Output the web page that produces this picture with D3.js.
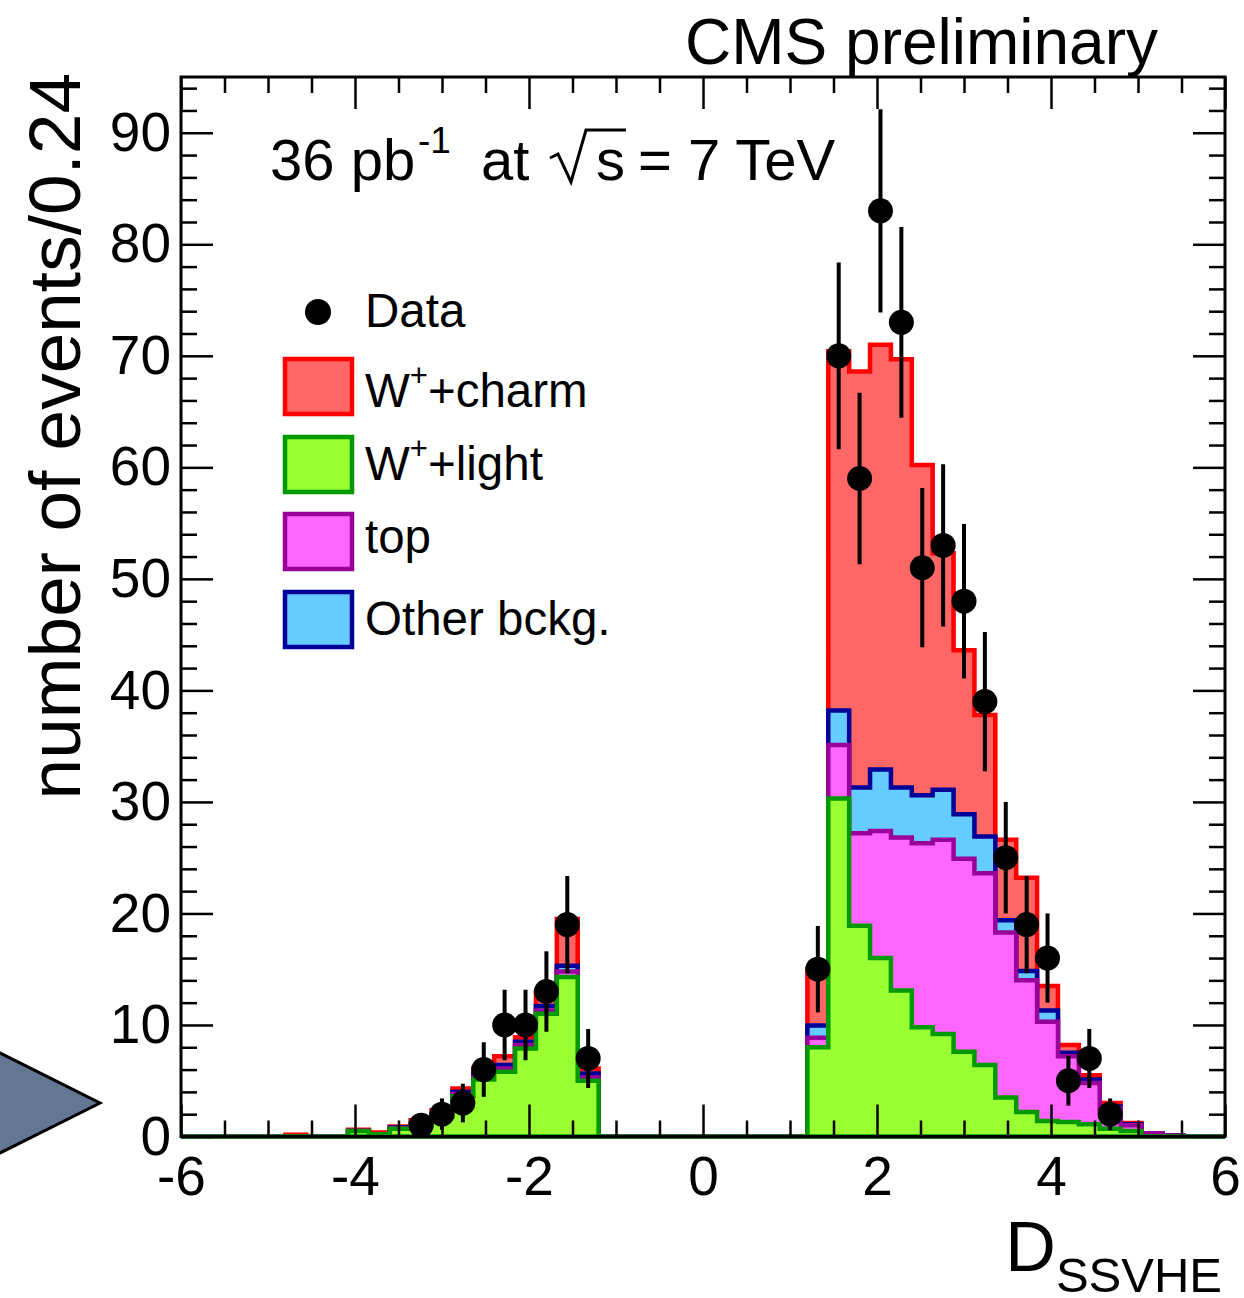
<!DOCTYPE html>
<html><head><meta charset="utf-8">
<script src="https://cdn.jsdelivr.net/npm/d3@7"></script>
<style>
body{margin:0;background:#fff;}
text{font-family:"Liberation Sans",Arial,Helvetica,sans-serif;fill:#000;}
</style>
</head><body>
<svg id="c" width="1244" height="1298"></svg>
<script>
// ---- axis definition ----
const xDomain = [-6, 6];
const yDomain = [0, 95];
const binWidth = 0.24;
const xMajorTicks = [-6, -4, -2, 0, 2, 4, 6];
const yMajorTicks = [0, 10, 20, 30, 40, 50, 60, 70, 80, 90];

// ---- stacked MC components (events per bin, 50 bins of 0.24 from -6 to 6) ----
const wLight = [0,0,0,0,0,0,0,0,0.5,0.2, 0.7,1.0,1.8,3.6,5.1,5.8,7.9,11.0,14.3,5.0,
  0,0,0,0,0,0,0,0,0,0, 8.0,30.3,18.9,16.0,13.1,9.8,9.2,7.6,6.4,3.5,
  2.2,1.4,1.3,1.1,0.7,0.5,0,0,0,0];
const topBkg = [0,0,0,0,0,0,0,0,0,0, 0.05,0.1,0.1,0.2,0.25,0.3,0.3,0.3,0.5,0.3,
  0,0,0,0,0,0,0,0,0,0, 0.85,4.8,8.3,11.4,13.7,16.5,17.4,17.3,17.2,14.8,
  11.8,8.9,5.9,3.7,1.8,0.5,0.3,0.1,0,0];
const otherBkg = [0,0,0,0,0,0,0,0,0,0, 0.05,0.05,0.05,0.2,0.25,0.3,0.3,0.4,0.5,0.35,
  0,0,0,0,0,0,0,0,0,0, 1.1,3.1,4.1,5.5,4.5,4.3,4.5,4.0,3.3,1.1,
  0.85,1.0,0.3,0.3,0.2,0.1,0,0,0,0];
const wCharm = [0,0,0,0,0,0.15,0,0,0.1,0.15, 0.1,0.3,0.4,0.3,0.5,0.8,0.4,1.2,4.2,0.45,
  0,0,0,0,0,0,0,0,0,0, 5.05,32.2,37.3,38.1,38.4,29.6,21.2,14.7,10.9,7.2,
  8.35,2.2,0.7,0.4,0.3,0.1,0,0,0,0];
// ---- data ----
const dataCounts = [0,0,0,0,0,0,0,0,0,0, 0,1,2,3,6,10,10,13,19,7,
  0,0,0,0,0,0,0,0,0,0, 15,70,59,83,73,51,53,48,39,25,
  19,16,5,7,2,0,0,0,0,0];

const legendLabels = ["Data", "W+charm", "W+light", "top", "Other bckg."];

// ---- layout ----
const svg = d3.select("#c");
const L = 181, R = 1225, T = 77, B = 1136.5;
const x = d3.scaleLinear().domain(xDomain).range([L, R]);
const y = d3.scaleLinear().domain(yDomain).range([B, T]);

const comps = [
  {key:"light", fill:"#99ff33", stroke:"#009900"},
  {key:"top", fill:"#ff66ff", stroke:"#990099"},
  {key:"other", fill:"#66ccff", stroke:"#000099"},
  {key:"charm", fill:"#ff6666", stroke:"#ff0000"}
];
const table = wLight.map((v,i)=>({i, light:v, top:topBkg[i], other:otherBkg[i], charm:wCharm[i]}));
const stack = d3.stack().keys(comps.map(c=>c.key))(table);

// triangle (slide decoration)
svg.append("polygon").attr("points","-10,1048 100,1103 -10,1158")
  .attr("fill","#637794").attr("stroke","#000").attr("stroke-width",3);

const line = d3.line().x(d=>x(d[0])).y(d=>y(d[1]));
function stepPoints(vals){
  const pts = [[xDomain[0],0]];
  vals.forEach((v,i)=>{
    const x0 = xDomain[0] + i*binWidth, x1 = xDomain[0] + (i+1)*binWidth;
    pts.push([x0,v],[x1,v]);
  });
  pts.push([xDomain[1],0]);
  return pts;
}
// draw from the total downwards (ROOT THStack style)
const gH = svg.append("g");
for (let k = comps.length-1; k >= 0; k--) {
  const cum = stack[k].map(d=>d[1]);
  gH.append("path").attr("d", line(stepPoints(cum)) + "Z")
    .attr("fill", comps[k].fill).attr("stroke", comps[k].stroke)
    .attr("stroke-width", 4.5).attr("stroke-linejoin","miter");
}

// ---- axes ----
const xMinor = d3.range(-6, 6.001, 0.5).filter(v=>Math.abs(v/2 - Math.round(v/2))>1e-6);
const yMinor = d3.range(0, 95.001, 2).filter(v=>v%10!==0);
const tickFont = 55;

const gxB = svg.append("g").attr("transform",`translate(0,${B})`)
  .call(d3.axisBottom(x).tickValues(xMajorTicks).tickSize(-32).tickPadding(19).tickFormat(d3.format("d")));
svg.append("g").attr("transform",`translate(0,${B})`)
  .call(d3.axisBottom(x).tickValues(xMinor).tickSize(-16).tickFormat(""));
svg.append("g").attr("transform",`translate(0,${T})`)
  .call(d3.axisTop(x).tickValues(xMajorTicks).tickSize(-32).tickFormat(""));
svg.append("g").attr("transform",`translate(0,${T})`)
  .call(d3.axisTop(x).tickValues(xMinor).tickSize(-16).tickFormat(""));
const gyL = svg.append("g").attr("transform",`translate(${L},0)`)
  .call(d3.axisLeft(y).tickValues(yMajorTicks).tickSize(-32).tickPadding(10).tickFormat(d3.format("d")));
svg.append("g").attr("transform",`translate(${L},0)`)
  .call(d3.axisLeft(y).tickValues(yMinor).tickSize(-16).tickFormat(""));
svg.append("g").attr("transform",`translate(${R},0)`)
  .call(d3.axisRight(y).tickValues(yMajorTicks).tickSize(-32).tickFormat(""));
svg.append("g").attr("transform",`translate(${R},0)`)
  .call(d3.axisRight(y).tickValues(yMinor).tickSize(-16).tickFormat(""));
svg.selectAll(".domain").remove();
svg.selectAll(".tick line").attr("stroke","#000").attr("stroke-width",2.5);
svg.selectAll(".tick text").style("font-family",'"Liberation Sans",Arial,sans-serif')
  .attr("font-size", tickFont).attr("fill","#000");
gxB.selectAll(".tick text").text(d=>d<0 ? "-"+Math.abs(d) : d);

// frame
svg.append("rect").attr("x",L).attr("y",T).attr("width",R-L).attr("height",B-T)
  .attr("fill","none").attr("stroke","#000").attr("stroke-width",3);

// ---- data points ----
const pts = dataCounts.map((v,i)=>({v, xc: xDomain[0] + (i+0.5)*binWidth})).filter(d=>d.v>0);
const gD = svg.append("g");
gD.selectAll("line").data(pts).join("line")
  .attr("x1",d=>x(d.xc)).attr("x2",d=>x(d.xc))
  .attr("y1",d=>y(Math.max(0,d.v-Math.sqrt(d.v)))).attr("y2",d=>y(d.v+Math.sqrt(d.v)))
  .attr("stroke","#000").attr("stroke-width",4);
gD.selectAll("circle").data(pts).join("circle")
  .attr("cx",d=>x(d.xc)).attr("cy",d=>y(d.v)).attr("r",12.5).attr("fill","#000");

// ---- legend ----
const legFont = 47.5;
svg.append("circle").attr("cx",318).attr("cy",312).attr("r",13).attr("fill","#000");
svg.append("text").attr("x",365).attr("y",327).attr("font-size",legFont).text(legendLabels[0]);
const legItems = [
  {c:comps[3], y:359, base:407, main:"W", sup:"+", rest:"+charm"},
  {c:comps[0], y:437, base:480, main:"W", sup:"+", rest:"+light"},
  {c:comps[1], y:514, base:553, main:"top"},
  {c:comps[2], y:592, base:635, main:"Other bckg."}
];
legItems.forEach(it=>{
  svg.append("rect").attr("x",285).attr("y",it.y).attr("width",67).attr("height",55)
    .attr("fill",it.c.fill).attr("stroke",it.c.stroke).attr("stroke-width",4.5);
  const t = svg.append("text").attr("x",365).attr("y",it.base).attr("font-size",legFont);
  t.append("tspan").text(it.main);
  if (it.sup) {
    t.append("tspan").attr("font-size",31).attr("dy",-21).text(it.sup);
    t.append("tspan").attr("dy",21).text(it.rest);
  }
});

// ---- CMS preliminary ----
svg.append("text").attr("x",1158).attr("y",64).attr("text-anchor","end")
  .attr("font-size",64).text("CMS preliminary");

// ---- luminosity text ----
(function(){
  const fs = 58, base = 180;
  function piece(str, px, size, dy){
    svg.append("text").attr("x",px).attr("y",base+(dy||0)).attr("font-size",size).text(str);
  }
  piece("36 pb", 270, fs);
  piece("-1", 418, 37, -27);
  piece("at", 481, fs);
  const rx = 550;
  svg.append("path")
    .attr("d",`M${rx},${base-22} L${rx+8},${base-26} L${rx+21},${base+2} L${rx+36},${base-50} L${rx+76},${base-50}`)
    .attr("fill","none").attr("stroke","#000").attr("stroke-width",3);
  piece("s", 596, fs);
  piece("= 7 TeV", 638, fs);
})();

// ---- axis titles ----
svg.append("text").attr("transform","translate(80,73) rotate(-90)")
  .attr("text-anchor","end").attr("font-size",73).text("number of events/0.24");
const xt = svg.append("text").attr("x",1222).attr("y",1271).attr("text-anchor","end").attr("font-size",70);
xt.append("tspan").text("D");
xt.append("tspan").attr("font-size",49).attr("dy",21).text("SSVHE");
</script>
</body></html>
